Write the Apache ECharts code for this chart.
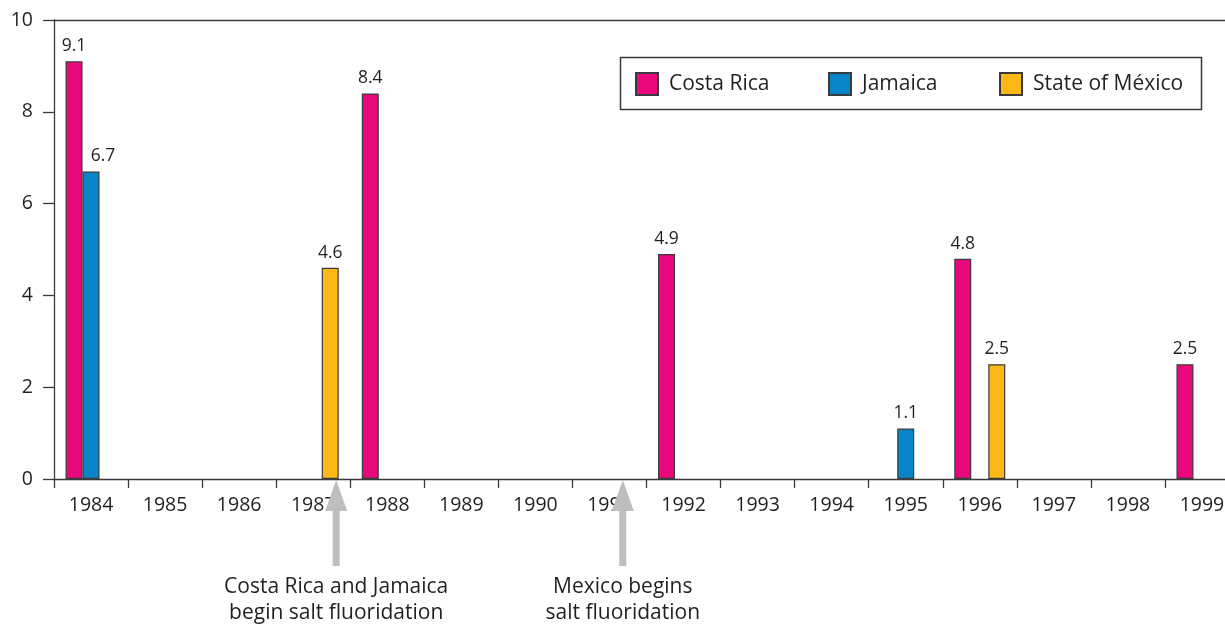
<!DOCTYPE html>
<html>
<head>
<meta charset="utf-8">
<script src="https://cdn.jsdelivr.net/npm/echarts@6/dist/echarts.min.js"></script>
<style>
  html, body { margin: 0; padding: 0; background: #ffffff; }
  #chart { width: 1225px; height: 626px; }
</style>
</head>
<body>
<div id="chart"></div>
<script>
// Survey years on the horizontal axis
const years = ['1984', '1985', '1986', '1987', '1988', '1989', '1990', '1991',
               '1992', '1993', '1994', '1995', '1996', '1997', '1998', '1999'];

// Values per survey year (null = no survey that year)
const costaRica = [9.1, null, null, null, 8.4, null, null, null, 4.9, null, null, null, 4.8, null, null, 2.5];
const jamaica   = [6.7, null, null, null, null, null, null, null, null, null, null, 1.1, null, null, null, null];
const mexico    = [null, null, null, 4.6, null, null, null, null, null, null, null, null, 2.5, null, null, null];

const seriesNames = ['Costa Rica', 'Jamaica', 'State of México'];
const seriesColors = ['#E9077C', '#0885C8', '#FBB817'];

// Start of salt fluoridation programmes (fractional years)
const milestones = [
  { year: 1987.81, lines: ['Costa Rica and Jamaica', 'begin salt fluoridation'] },
  { year: 1991.68, lines: ['Mexico begins', 'salt fluoridation'] }
];

const FONT = '"Open Sans", "Noto Sans", sans-serif';
const INK = '#231f20';
const AXIS = '#3a3a3a';

const chart = echarts.init(document.getElementById('chart'), null, { renderer: 'canvas' });

// Turn a value list into bar data; a label can be nudged sideways when it
// would otherwise sit on top of the neighbouring bar.
function toBarData(values, labelShift) {
  return values.map((v, i) => {
    if (v == null) return null;
    const shift = labelShift && labelShift[i];
    return shift ? { value: v, label: { offset: [shift, 0] } } : v;
  });
}

function barSeries(name, data, color, extra) {
  return Object.assign({
    name: name,
    type: 'bar',
    data: data,
    barWidth: 17,
    barGap: '0%',
    itemStyle: { color: color, borderColor: AXIS, borderWidth: 1.2 },
    label: {
      show: true,
      position: 'top',
      distance: 6,
      color: INK,
      fontFamily: FONT,
      fontSize: 17.5,
      formatter: p => p.value == null ? '' : Number(p.value).toFixed(1)
    },
    emphasis: { disabled: true },
    animation: false
  }, extra || {});
}

function legendItem(name, left) {
  return {
    data: [name],
    left: left,
    top: 72,
    padding: 0,
    icon: 'rect',
    itemWidth: 22,
    itemHeight: 22,
    selectedMode: false,
    textStyle: { fontFamily: FONT, fontSize: 21, color: INK, padding: [0, 0, 0, 6] }
  };
}

chart.setOption({
  backgroundColor: '#ffffff',
  animation: false,
  // the last year column runs slightly past the right edge of the page
  grid: {
    left: 54, top: 20, width: 1185, height: 459,
    containLabel: false,
    outerBoundsMode: 'none'
  },
  legend: [
    legendItem(seriesNames[0], 635),
    legendItem(seriesNames[1], 828),
    legendItem(seriesNames[2], 999)
  ],
  xAxis: [
    {
      type: 'category',
      data: years,
      boundaryGap: true,
      axisLine: { show: true, lineStyle: { color: AXIS, width: 1.3 } },
      axisTick: { show: true, length: 9, inside: false, lineStyle: { color: AXIS, width: 1.3 } },
      axisLabel: { margin: 16, color: INK, fontFamily: FONT, fontSize: 19.5, hideOverlap: false },
      splitLine: { show: false }
    },
    {
      // hidden year scale used to place the milestone arrows
      type: 'value',
      min: 1984,
      max: 2000,
      show: false
    }
  ],
  yAxis: {
    type: 'value',
    min: 0,
    max: 10,
    interval: 2,
    axisLine: { show: true, lineStyle: { color: AXIS, width: 1.3 } },
    axisTick: { show: true, length: 11, lineStyle: { color: AXIS, width: 1.3 } },
    axisLabel: { margin: 21, color: INK, fontFamily: FONT, fontSize: 19.5 },
    splitLine: { show: false }
  },
  series: [
    barSeries(seriesNames[0], toBarData(costaRica), seriesColors[0], {
      markLine: {
        silent: true,
        symbol: ['none', 'none'],
        label: { show: false },
        lineStyle: { color: AXIS, width: 1.3, type: 'solid' },
        data: [{ yAxis: 10 }]
      }
    }),
    barSeries(seriesNames[1], toBarData(jamaica, { 0: 12 }), seriesColors[1]),
    barSeries(seriesNames[2], toBarData(mexico), seriesColors[2])
  ]
});

// Legend frame and milestone arrows with captions
const baseY = chart.convertToPixel({ yAxisIndex: 0 }, 0);
const graphics = [
  {
    type: 'rect',
    z: 50,
    shape: { x: 620.5, y: 57.5, width: 581, height: 52 },
    style: { fill: 'none', stroke: AXIS, lineWidth: 1.5 }
  }
];
milestones.forEach(m => {
  const x = chart.convertToPixel({ xAxisIndex: 1 }, m.year);
  const tip = baseY + 1;
  graphics.push({
    type: 'polygon',
    z: 100,
    shape: {
      points: [
        [x, tip], [x + 11, tip + 31], [x + 3.5, tip + 31], [x + 3.5, tip + 86],
        [x - 3.5, tip + 86], [x - 3.5, tip + 31], [x - 11, tip + 31]
      ]
    },
    style: { fill: '#BDBEC0' }
  });
  graphics.push({
    type: 'text',
    z: 100,
    style: {
      text: m.lines.join('\n'),
      x: x,
      y: tip + 94,
      align: 'center',
      verticalAlign: 'top',
      fontFamily: FONT,
      fontSize: 21,
      lineHeight: 26,
      fill: INK
    }
  });
});
chart.setOption({ graphic: graphics });
</script>
</body>
</html>
